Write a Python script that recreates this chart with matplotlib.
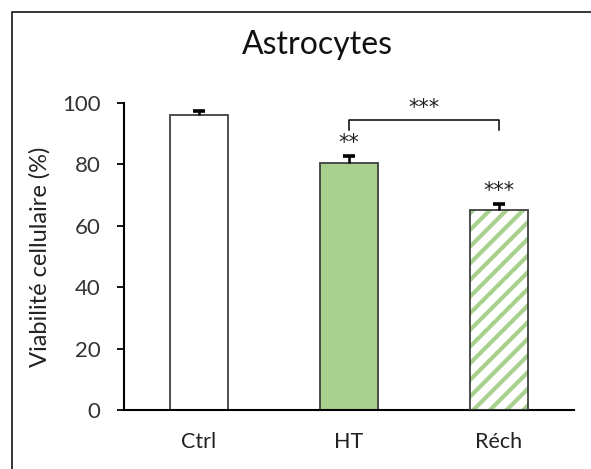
import matplotlib
matplotlib.use("Agg")
import matplotlib.pyplot as plt
from matplotlib.patches import Rectangle

categories = ["Ctrl", "HT", "Réch"]
values = [96.1, 80.5, 65.1]
errors = [1.3, 2.2, 2.0]
signif = ["", "**", "***"]
ylabel = "Viabilité cellulaire (%)"
title = "Astrocytes"
yticks = [0, 20, 40, 60, 80, 100]

plt.rcParams['font.family'] = ['Lato', 'DejaVu Sans']
plt.rcParams['hatch.linewidth'] = 3.0

fig = plt.figure(figsize=(5.91, 4.69), dpi=100)
ax = fig.add_axes([124/591, 1-410/469, (574-124)/591, (410-103)/469])

x = list(range(len(categories)))
green = '#a9d18e'
edge = '#404040'
w = 0.39
ax.bar(x[0], values[0], width=w, color='white', edgecolor=edge, linewidth=1.3, zorder=2)
ax.bar(x[1], values[1], width=w, color=green, edgecolor=edge, linewidth=1.3, zorder=2)
ax.bar(x[2], values[2], width=w, color='white', edgecolor=green, linewidth=0, hatch='//', zorder=2)
ax.bar(x[2], values[2], width=w, color='none', edgecolor=edge, linewidth=1.3, zorder=3)

# upper-only error bars
cw = 0.075
for xi, v, e in zip(x, values, errors):
    ax.plot([xi, xi], [v, v + e], color='black', lw=1.8, zorder=4, solid_capstyle='butt')
    ax.plot([xi - cw/2, xi + cw/2], [v + e, v + e], color='black', lw=2.6, zorder=4,
            solid_capstyle='butt')

for xi, v, e, s in zip(x, values, errors, signif):
    if s:
        ax.text(xi, v + e + 1.0, s, ha='center', va='bottom', fontsize=15,
                family=['DejaVu Sans'], color='#222222')

# bracket HT vs Réch
yb = (410-120)/3.07
yd = (410-130)/3.07
ax.plot([x[1], x[1], x[2], x[2]], [yd, yb, yb, yd], color='black', lw=1.1, clip_on=False)
ax.text((x[1]+x[2])/2, yb + 0.6, "***", ha='center', va='bottom', fontsize=15,
        family=['DejaVu Sans'], color='#222222', clip_on=False)

ax.set_xlim(-0.5, 2.5)
ax.set_ylim(0, 100)
ax.set_yticks(yticks)
ax.set_yticklabels([str(t) for t in yticks], fontsize=16, color='#333333')
ax.set_xticks(x)
ax.set_xticklabels(categories, fontsize=15.5, color='#222222')
ax.tick_params(axis='x', length=0, pad=16)
ax.tick_params(axis='y', length=5, width=1.3, direction='out', pad=12)
for s in ['top', 'right']:
    ax.spines[s].set_visible(False)
ax.spines['left'].set_linewidth(1.5)
ax.spines['bottom'].set_linewidth(1.5)
ax.spines['left'].set_color('black')
ax.spines['bottom'].set_color('black')
ax.set_ylabel(ylabel, fontsize=17, color='#222222', labelpad=8)

fig.text(0.5 + 22/591, 1-45/469, title, ha='center', va='center', fontsize=23, color='#111111')

fig.patches.append(Rectangle((11.5/591, -0.1), 1.2, 1.1 - 12.5/469,
                             transform=fig.transFigure, fill=False, edgecolor='black', linewidth=1.1))

fig.savefig("out.png", dpi=100, facecolor='white')
